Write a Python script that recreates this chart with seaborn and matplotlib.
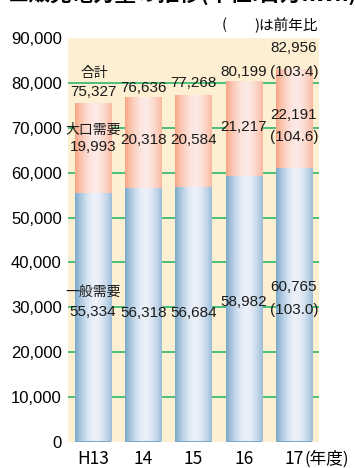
import numpy as np
import pandas as pd
import matplotlib
matplotlib.use("Agg")
import matplotlib.pyplot as plt
import seaborn as sns
from matplotlib import font_manager

# ---------------- data ----------------
years = ["H13", "14", "15", "16", "17"]
general = [55334, 56318, 56684, 58982, 60765]   # 一般需要
large = [19993, 20318, 20584, 21217, 22191]     # 大口需要
total = [75327, 76636, 77268, 80199, 82956]     # 合計
general_yoy = [None, None, None, None, 103.0]
large_yoy = [None, None, None, None, 104.6]
total_yoy = [None, None, None, None, 103.4]
yticks = [0, 10000, 20000, 30000, 40000, 50000, 60000, 70000, 80000, 90000]

# label text anchor heights (data units, where the value labels sit)
general_label_y = [28900, 28700, 28700, 31140, 34490]
large_label_y = [65740, 67300, 67300, 70200, 72880]
total_label_y = [78010, 78910, 80020, 82480, 87830]

df = pd.DataFrame({"year": years, "general": general, "large": large, "total": total})

# ---------------- style ----------------
CJK = "Noto Sans CJK JP"
names = {f.name for f in font_manager.fontManager.ttflist}
NUM = "Liberation Sans Narrow" if "Liberation Sans Narrow" in names else "Liberation Sans"
NUM_SIZE = 12 if NUM == "Liberation Sans Narrow" else 11
plt.rcParams["font.family"] = ["Liberation Sans", CJK, "DejaVu Sans"]

BG = "#fdefd1"
GRID = "#3dba74"
BLUE_EDGE = np.array([122, 168, 202]) / 255
BLUE_MID = np.array([236, 241, 250]) / 255
ORG_EDGE = np.array([248, 166, 132]) / 255
ORG_MID = np.array([253, 233, 229]) / 255

fig = plt.figure(figsize=(3.55, 4.68), dpi=100)
ax = fig.add_axes([68 / 355, 1 - 441.5 / 468, 251 / 355, 403 / 468])
ax.set_facecolor(BG)

sns.barplot(data=df, x="year", y="total", order=years, color=tuple(ORG_EDGE),
            saturation=1, width=0.72, ax=ax, linewidth=0)
sns.barplot(data=df, x="year", y="general", order=years, color=tuple(BLUE_EDGE),
            saturation=1, width=0.72, ax=ax, linewidth=0)

# gridlines (excluding the frame values)
for v in yticks[1:-1]:
    ax.axhline(v, color=GRID, lw=1.3, zorder=0.5)

# horizontal gradient fill for every bar
n = 80
t = np.linspace(0, 1, n)
f = np.clip(1 - np.abs((t - 0.55) / 0.55) ** 1.7, 0, 1)[:, None]
patches = list(ax.patches)
for i, p in enumerate(patches):
    is_orange = i < len(years)
    edge, mid = (ORG_EDGE, ORG_MID) if is_orange else (BLUE_EDGE, BLUE_MID)
    grad = (edge * (1 - f) + mid * f)[None, :, :]
    base_z = 2 if is_orange else 3
    p.set_zorder(base_z)
    x0, y0, w, h = p.get_x(), p.get_y(), p.get_width(), p.get_height()
    ax.imshow(grad, extent=[x0, x0 + w, y0, y0 + h], aspect="auto",
              zorder=base_z + 0.5, interpolation="bilinear")

ax.set_xlim(-0.5, len(years) - 0.5)
ax.set_ylim(0, 90000)
ax.set_yticks(yticks)
ax.set_yticklabels([f"{v:,}" for v in yticks], fontsize=12, family="Liberation Sans")
ax.set_xticks(range(len(years)))
ax.set_xticklabels(years, fontsize=12.5, family=CJK)
ax.tick_params(axis="y", length=0, pad=4.5)
ax.tick_params(axis="x", length=0, pad=6)
ax.set_xlabel("")
ax.set_ylabel("")
for s in ax.spines.values():
    s.set_visible(False)

# ---------------- labels ----------------
def num(txt, x, y):
    ax.text(x, y, txt, ha="center", va="center", fontsize=NUM_SIZE, family=NUM,
            color="#1a1a1a", zorder=6)

def jp(txt, x, y):
    ax.text(x, y, txt, ha="center", va="center", fontsize=10, family=CJK,
            color="#1a1a1a", zorder=6)

for i in range(len(years)):
    num(f"{general[i]:,}", i, general_label_y[i])
    num(f"{large[i]:,}", i, large_label_y[i])
    num(f"{total[i]:,}", i, total_label_y[i])
    if general_yoy[i] is not None:
        num(f"({general_yoy[i]:.1f})", i, general_label_y[i] - 5100)
    if large_yoy[i] is not None:
        num(f"({large_yoy[i]:.1f})", i, large_label_y[i] - 4900)
    if total_yoy[i] is not None:
        num(f"({total_yoy[i]:.1f})", i, total_label_y[i] - 5350)

jp("一般需要", 0, general_label_y[0] + 4470)
jp("大口需要", 0, large_label_y[0] + 3790)
jp("合計", 0.03, total_label_y[0] + 4240)

fig.text(224 / 355, 1 - 25 / 468, "(", ha="center", va="center", fontsize=10.5, family=CJK)
fig.text(318 / 355, 1 - 25 / 468, ")は前年比", ha="right", va="center", fontsize=10.5, family=CJK)
fig.text(304 / 355, 1 - 459 / 468, "(年度)", ha="left", va="center", fontsize=12, family=CJK)
# title line, cut off at the top edge as in the reference
fig.text(8 / 355, 1 - 1 / 468, "■販売電力量の推移(単位:百万kWh)", ha="left", va="baseline",
         fontsize=15.5, weight="bold", family=CJK)

fig.savefig("out.png", dpi=100)
